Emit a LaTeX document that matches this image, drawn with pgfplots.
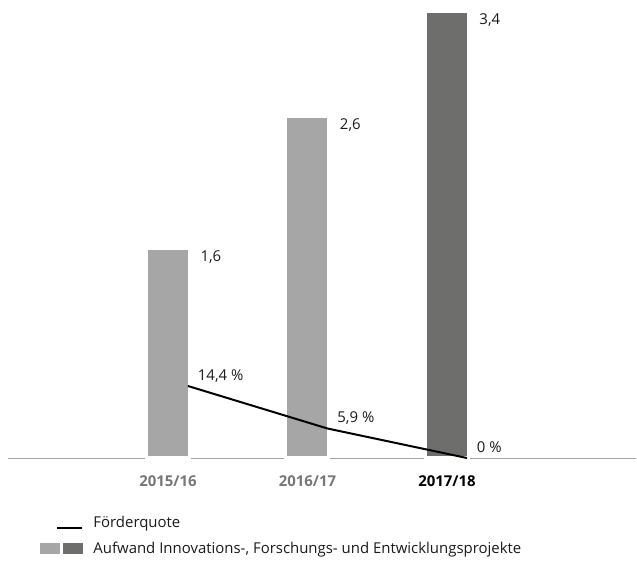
\documentclass[border=0pt]{standalone}
\usepackage{fontspec}
\setmainfont{Open Sans}
\usepackage{pgfplots}
\pgfplotsset{compat=1.18}
\definecolor{barlight}{HTML}{A6A6A6}
\definecolor{bardark}{HTML}{6E6E6C}
\definecolor{axisgray}{HTML}{A3A3A3}
\definecolor{ticklab}{HTML}{777777}
\definecolor{txt}{HTML}{1A1A1A}
\begin{document}
\begin{tikzpicture}
\begin{axis}[
  name=main,
  at={(0,0)}, anchor=south west,
  scale only axis, width=628bp, height=458bp,
  xmin=-1.147, xmax=3.355, ymin=0, ymax=3.491,
  axis x line=bottom, axis y line=none,
  x axis line style={axisgray, line width=0.8bp, -},
  xtick={0,1,2},
  xticklabels={{\color{ticklab}\bfseries 2015/16},{\color{ticklab}\bfseries 2016/17},{\color{black}\bfseries 2017/18}},
  major tick length=0pt,
  xticklabel style={anchor=base, inner sep=0pt, yshift=-28bp},
  font=\fontsize{15}{18}\selectfont,
  clip=false,
  point meta=explicit symbolic,
  nodes near coords,
  nodes near coords style={anchor=base west, inner sep=0pt, xshift=31bp, yshift=-13bp, text=txt},
]
\addplot[ybar, bar width=43bp, bar shift=0pt, fill=barlight, draw=white, line width=3bp]
  coordinates {(0,1.6) [1,6] (1,2.6) [2,6]};
\addplot[ybar, bar width=43bp, bar shift=0pt, fill=bardark, draw=white, line width=3bp]
  coordinates {(2,3.4) [3,4]};
\end{axis}
\begin{axis}[
  at={(0,0)}, anchor=south west,
  scale only axis, width=628bp, height=458bp,
  xmin=-1.147, xmax=3.355, ymin=0, ymax=91.6,
  hide axis,
  clip=false,
  font=\fontsize{15}{18}\selectfont,
  point meta=explicit symbolic,
  nodes near coords,
  nodes near coords style={anchor=base west, inner sep=0pt, xshift=9bp, yshift=6bp, text=txt},
  legend style={at={(axis description cs:0.051,-0.127)}, anchor=north west,
    draw=none, fill=none, inner sep=0pt, row sep=13bp,
    nodes={inner sep=0pt, text=txt}},
  legend cell align=left,
]
\addplot[black, line width=2bp, mark=none,
  legend image code/.code={\draw[black, line width=2bp] (17bp,-5bp) -- (42bp,-5bp); \path[draw=none, fill=none] (0bp,0bp) rectangle (53bp,0.1bp);}]
  coordinates {(0.143,14.4) [14,4 \%] (1.143,5.9) [5,9 \%] (2.143,0) [0 \%]};
\addlegendentry{Förderquote}
\addlegendimage{legend image code/.code={\fill[barlight] (0bp,-5bp) rectangle (19bp,5bp); \fill[bardark] (23bp,-5bp) rectangle (42bp,5bp); \path[draw=none, fill=none] (0bp,0bp) rectangle (53bp,0.1bp);}}
\addlegendentry{Aufwand Innovations-, Forschungs- und Entwicklungsprojekte}
\end{axis}
\pgfresetboundingbox
\path (-8bp,-103bp) rectangle (629bp,458bp);
\end{tikzpicture}
\end{document}
